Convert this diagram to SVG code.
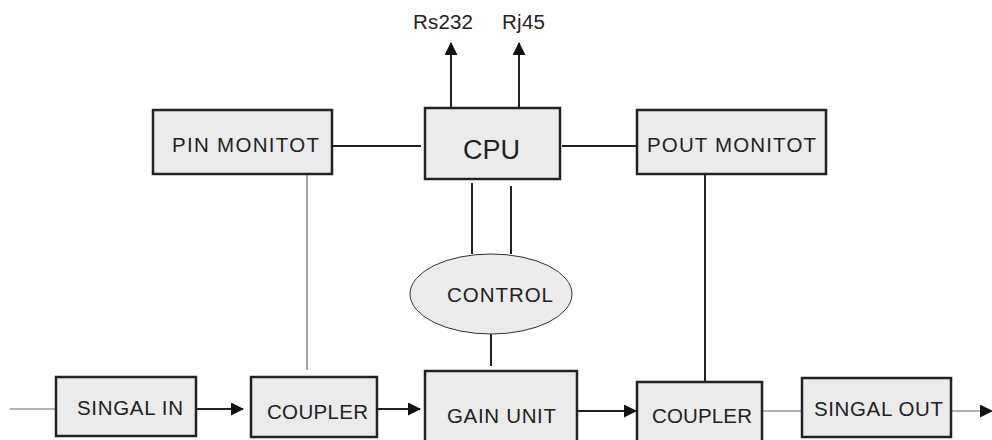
<svg xmlns="http://www.w3.org/2000/svg" width="992" height="440" viewBox="0 0 992 440">
<style>
.box{fill:#ebebeb;stroke:#222;stroke-width:2.5}
.ell{fill:#ebebeb;stroke:#333;stroke-width:1}
.t{font-family:"Liberation Sans",Arial,sans-serif;fill:#222;font-size:20.5px}
.big{font-size:27px}
.w{stroke:#222;stroke-width:2;fill:none}
.g{stroke:#666;stroke-width:1.2;fill:none}
</style>
<defs>
<marker id="ah" markerUnits="userSpaceOnUse" markerWidth="14" markerHeight="14" refX="12" refY="6.5" orient="auto">
<path d="M0,0 L13,6.5 L0,13 Z" fill="#111"/>
</marker>
</defs>
<rect width="992" height="440" fill="#fff"/>
<g id="connectors">
<line class="w" x1="451" y1="107" x2="451" y2="43" marker-end="url(#ah)"/>
<line class="w" x1="519" y1="107" x2="519" y2="43" marker-end="url(#ah)"/>
<line class="w" x1="333" y1="146" x2="421" y2="146"/>
<line class="w" x1="562" y1="146" x2="637" y2="146"/>
<line class="g" x1="307" y1="175" x2="307" y2="370"/>
<line class="w" x1="472" y1="183" x2="472" y2="254"/>
<line class="w" x1="511" y1="186" x2="511" y2="254"/>
<line class="w" x1="491" y1="334" x2="491" y2="366"/>
<line class="w" x1="705" y1="175" x2="705" y2="382"/>
<line class="g" x1="10" y1="409" x2="56" y2="409"/>
<line class="w" x1="197" y1="409" x2="243" y2="409" stroke-width="1.5" marker-end="url(#ah)"/>
<line class="w" x1="378" y1="409" x2="420" y2="409" marker-end="url(#ah)"/>
<line class="w" x1="578" y1="411" x2="636" y2="411" marker-end="url(#ah)"/>
<line class="g" x1="763" y1="411" x2="802" y2="411"/>
<line class="g" x1="952" y1="411" x2="992" y2="411" marker-end="url(#ah)"/>
</g>
<text class="t" x="413" y="29" textLength="60">Rs232</text>
<text class="t" x="502" y="29" textLength="43">Rj45</text>
<g id="pin-monitot">
<rect class="box" x="153" y="110" width="179" height="64"/>
<text class="t" x="172" y="152" textLength="147">PIN MONITOT</text>
</g>
<g id="cpu">
<rect class="box" x="425" y="108" width="135" height="71"/>
<text class="t big" x="463" y="159" textLength="57">CPU</text>
</g>
<g id="pout-monitot">
<rect class="box" x="637" y="110" width="189" height="64"/>
<text class="t" x="647" y="152" textLength="169">POUT MONITOT</text>
</g>
<g id="control">
<ellipse class="ell" cx="491" cy="294" rx="81" ry="40"/>
<text class="t" x="447" y="302" textLength="106">CONTROL</text>
</g>
<g id="singal-in">
<rect class="box" x="56" y="377" width="140" height="59"/>
<text class="t" x="77" y="415" textLength="106">SINGAL IN</text>
</g>
<g id="coupler-1">
<rect class="box" x="251" y="377" width="126" height="60"/>
<text class="t" x="267" y="419" textLength="101">COUPLER</text>
</g>
<g id="gain-unit">
<rect class="box" x="425" y="371" width="152" height="75"/>
<text class="t" x="447" y="423" textLength="109">GAIN UNIT</text>
</g>
<g id="coupler-2">
<rect class="box" x="637" y="382" width="125" height="64"/>
<text class="t" x="652" y="423" textLength="100">COUPLER</text>
</g>
<g id="singal-out">
<rect class="box" x="802" y="378" width="149" height="59"/>
<text class="t" x="814" y="416" textLength="129">SINGAL OUT</text>
</g>
</svg>
